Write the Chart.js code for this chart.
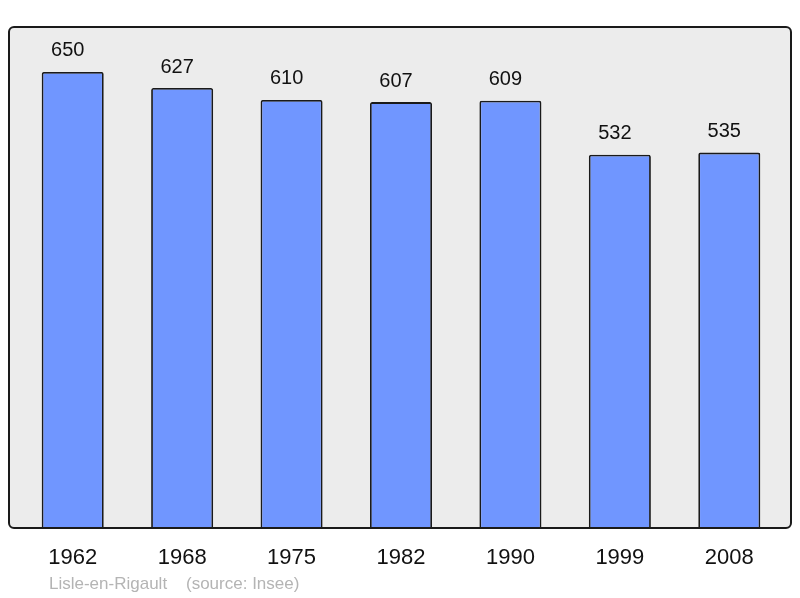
<!DOCTYPE html>
<html>
<head>
<meta charset="utf-8">
<script src="https://cdn.jsdelivr.net/npm/chart.js@4/dist/chart.umd.min.js"></script>
<style>
html,body{margin:0;padding:0;background:#fff;}
#wrap{width:800px;height:598px;position:relative;}
</style>
</head>
<body>
<div id="wrap"><canvas id="c" width="800" height="598"></canvas></div>
<script>
const years = ['1962','1968','1975','1982','1990','1999','2008'];
const population = [650, 627, 610, 607, 609, 532, 535];
const footerText = 'Lisle-en-Rigault    (source: Insee)';

const FONT = '"Liberation Sans", Arial, sans-serif';

const boxPlugin = {
  id: 'box',
  beforeDraw(chart) {
    const {ctx, chartArea: a} = chart;
    const x = a.left - 9, y = a.top, w = (a.right + 7) - x, h = a.bottom - a.top;
    ctx.save();
    ctx.beginPath();
    ctx.roundRect(x, y, w, h, 5);
    ctx.fillStyle = '#ececec';
    ctx.fill();
    ctx.restore();
  },
  afterDatasetsDraw(chart) {
    const {ctx, chartArea: a} = chart;
    const x = a.left - 9, y = a.top, w = (a.right + 7) - x, h = a.bottom - a.top;
    ctx.save();
    ctx.beginPath();
    ctx.roundRect(x, y, w, h, 5);
    ctx.lineWidth = 2;
    ctx.strokeStyle = '#1a1a1a';
    ctx.stroke();
    // value labels
    const meta = chart.getDatasetMeta(0);
    ctx.fillStyle = '#111';
    ctx.font = '20px ' + FONT;
    ctx.textAlign = 'center';
    ctx.textBaseline = 'middle';
    meta.data.forEach((bar, i) => {
      ctx.fillText(String(chart.data.datasets[0].data[i]), bar.x - 5, bar.y - 21);
    });
    // footer
    ctx.fillStyle = '#b4b4b4';
    ctx.font = '17px ' + FONT;
    ctx.textAlign = 'left';
    ctx.fillText(footerText, 49, 584);
    ctx.restore();
  }
};

new Chart(document.getElementById('c'), {
  type: 'bar',
  data: {
    labels: years,
    datasets: [{
      data: population,
      backgroundColor: '#7096ff',
      borderColor: '#1a1a1a',
      borderWidth: 1.8,
      borderRadius: 2,
      barPercentage: 0.567,
      categoryPercentage: 1
    }]
  },
  options: {
    responsive: false,
    animation: false,
    devicePixelRatio: 1,
    layout: { padding: { left: 18, right: 16, top: 27, bottom: 0 } },
    plugins: { legend: { display: false }, tooltip: { enabled: false } },
    scales: {
      x: {
        grid: { display: false, drawTicks: false },
        border: { display: false },
        ticks: { color: '#111', font: { size: 22, family: FONT }, padding: 17 },
        afterFit(scale) { scale.height = 70; }
      },
      y: {
        display: false,
        min: 0,
        max: 714
      }
    }
  },
  plugins: [boxPlugin]
});
</script>
</body>
</html>
